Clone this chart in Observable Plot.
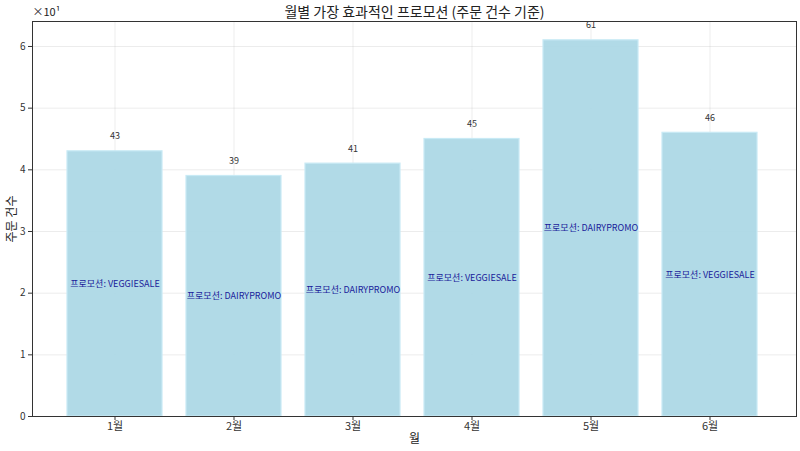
<!DOCTYPE html>
<html><head><meta charset="utf-8">
<script src="https://cdn.jsdelivr.net/npm/d3@7"></script>
<script src="https://cdn.jsdelivr.net/npm/@observablehq/plot@0.6"></script>
<style>
html,body{margin:0;padding:0;background:#fff;}
svg{display:block;}
</style></head>
<body><div id="chart"></div>
<script>
const months = ["1월","2월","3월","4월","5월","6월"];
const orders = [43, 39, 41, 45, 61, 46];
const promos = ["VEGGIESALE","DAIRYPROMO","DAIRYPROMO","VEGGIESALE","DAIRYPROMO","VEGGIESALE"];
const yTicks = [0,10,20,30,40,50,60];
const title = "월별 가장 효과적인 프로모션 (주문 건수 기준)";

const data = months.map((m,i)=>({month:m, value:orders[i], promo:"프로모션: "+promos[i]}));
const font = "'Noto Sans CJK KR','Noto Sans',sans-serif";

const chart = Plot.plot({
  width: 800, height: 451,
  marginLeft: 32, marginRight: 4, marginTop: 21, marginBottom: 35,
  style: {fontFamily: font, fontSize: "11px", color: "#333", background: "#fff"},
  x: {domain: months, paddingInner: 0.2, paddingOuter: 0.29, align: 0.48, label: null},
  y: {domain: [0, 64.05], label: null},
  marks: [
    Plot.gridX({stroke: "#b0b0b0", strokeOpacity: 0.3, strokeWidth: 0.8}),
    Plot.gridY(yTicks, {stroke: "#b0b0b0", strokeOpacity: 0.3, strokeWidth: 0.8}),
    Plot.barY(data, {x: "month", y: "value", fill: "#add8e6", fillOpacity: 0.95, stroke: "#c8eaf5", strokeWidth: 1.2}),
    Plot.text(data, {x: "month", y: "value", text: d => String(d.value), dy: -15, fontSize: 9, fill: "#333"}),
    Plot.text(data, {x: "month", y: d => d.value/2, text: "promo", fontSize: 9, fill: "#1a1a9a"}),
    Plot.frame({stroke: "#333", strokeWidth: 1}),
    Plot.axisX({tickSize: 4, tickPadding: 2, fontSize: 11, fill: "#333"}),
    Plot.axisY(yTicks, {tickFormat: d => d/10, tickSize: 4, tickPadding: 3, fontSize: 10, fill: "#333"}),
    Plot.text([title], {frameAnchor: "top", lineAnchor: "middle", dy: -9, fontSize: 14, fill: "#222"}),
    Plot.text(["월"], {frameAnchor: "bottom", lineAnchor: "middle", dy: 23, fontSize: 12, fill: "#222"}),
    Plot.text(["주문 건수"], {frameAnchor: "left", lineAnchor: "middle", textAnchor: "middle", dx: -20, rotate: -90, fontSize: 12, fill: "#222"}),
    Plot.text(["×10¹"], {frameAnchor: "top-left", lineAnchor: "middle", dx: 0, dy: -9, textAnchor: "start", fontSize: 11, fill: "#222"})
  ]
});
document.getElementById("chart").appendChild(chart);
</script></body></html>
